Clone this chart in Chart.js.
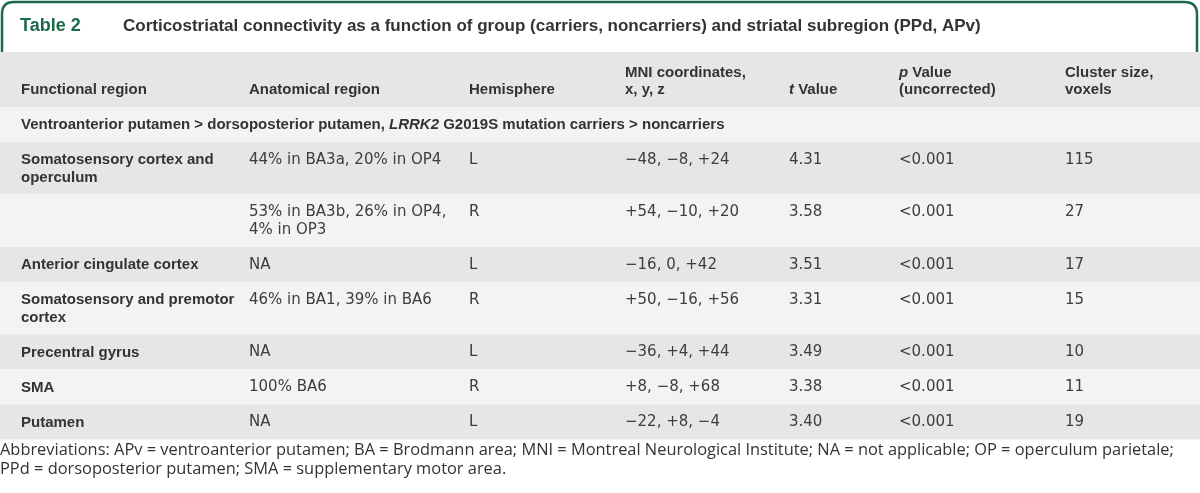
<!DOCTYPE html>
<html lang="en">
  <head>
    <meta charset="UTF-8" />
    <title>Table 2</title>
    <style>
      html, body { margin: 0; padding: 0; background: #fff; }
      #tableChart { display: block; }
    </style>
  </head>
  <body>
    <canvas id="tableChart" width="1200" height="493"></canvas>
    <script src="https://cdn.jsdelivr.net/npm/chart.js@4/dist/chart.umd.min.js"></script>
    <script>
        // table content
        var tableNumber = 'Table 2';
        var tableTitle = 'Corticostriatal connectivity as a function of group (carriers, noncarriers) and striatal subregion (PPd, APv)';
        var columnHeaders = [
            [['Functional region']],
            [['Anatomical region']],
            [['Hemisphere']],
            [['MNI coordinates,'], ['x, y, z']],
            [['t', 'Value']],
            [['p', 'Value'], ['(uncorrected)']],
            [['Cluster size,'], ['voxels']]
        ];
        var sectionLabel = ['Ventroanterior putamen > dorsoposterior putamen, ', 'LRRK2', ' G2019S mutation carriers > noncarriers'];

        var functionalRegion = [
            ['Somatosensory cortex and', 'operculum'],
            [],
            ['Anterior cingulate cortex'],
            ['Somatosensory and premotor', 'cortex'],
            ['Precentral gyrus'],
            ['SMA'],
            ['Putamen']
        ];
        var anatomicalRegion = [
            ['44% in BA3a, 20% in OP4'],
            ['53% in BA3b, 26% in OP4,', '4% in OP3'],
            ['NA'],
            ['46% in BA1, 39% in BA6'],
            ['NA'],
            ['100% BA6'],
            ['NA']
        ];
        var hemisphere = ['L', 'R', 'L', 'R', 'L', 'R', 'L'];
        var mniCoordinates = ['\u221248, \u22128, +24', '+54, \u221210, +20', '\u221216, 0, +42', '+50, \u221216, +56', '\u221236, +4, +44', '+8, \u22128, +68', '\u221222, +8, \u22124'];
        var tValues = ['4.31', '3.58', '3.51', '3.31', '3.49', '3.38', '3.40'];
        var pValues = ['<0.001', '<0.001', '<0.001', '<0.001', '<0.001', '<0.001', '<0.001'];
        var clusterSize = ['115', '27', '17', '15', '10', '11', '19'];

        var footnote = [
            'Abbreviations: APv = ventroanterior putamen; BA = Brodmann area; MNI = Montreal Neurological Institute; NA = not applicable; OP = operculum parietale;',
            'PPd = dorsoposterior putamen; SMA = supplementary motor area.'
        ];

        // layout
        var colStart = [21, 249, 469, 625, 789, 899, 1065];
        var titleH = 52, headerH = 55, sectionH = 35, lineH = 17.5, rowPad = 17.5;
        var teal = '#1b6b4b';
        var darkRow = '#e6e6e6', lightRow = '#f2f3f3';
        var boldFont = 'bold 15px "Liberation Sans", Arial, sans-serif';
        var boldItalicFont = 'italic bold 15px "Liberation Sans", Arial, sans-serif';
        var bodyFont = '15px "DejaVu Sans", sans-serif';
        var noteFont = '16.4px "Open Sans", sans-serif';

        function drawRich(ctx, parts, fonts, x, y) {
            parts.forEach(function (p, i) {
                ctx.font = fonts[i];
                ctx.fillText(p, x, y);
                x += ctx.measureText(p).width;
            });
        }

        var tablePlugin = {
            id: 'tablePlugin',
            beforeDraw: function (chart) {
                var ctx = chart.ctx;
                var sx = chart.scales.x, sy = chart.scales.y;
                var X = function (v) { return sx.getPixelForValue(v); };
                var Y = function (v) { return sy.getPixelForValue(v); };
                var W0 = X(0), W1 = X(1200);

                ctx.save();
                ctx.fillStyle = '#fff';
                ctx.fillRect(W0, Y(0), W1 - W0, Y(493) - Y(0));

                // title frame
                ctx.strokeStyle = teal;
                ctx.lineWidth = 2.5;
                ctx.beginPath();
                ctx.moveTo(X(2), Y(titleH));
                ctx.lineTo(X(2), Y(14));
                ctx.quadraticCurveTo(X(2), Y(2), X(14), Y(2));
                ctx.lineTo(X(1184), Y(2));
                ctx.quadraticCurveTo(X(1197), Y(2), X(1197), Y(14));
                ctx.lineTo(X(1197), Y(titleH));
                ctx.stroke();

                ctx.textBaseline = 'middle';
                ctx.fillStyle = teal;
                ctx.font = 'bold 18px "Liberation Sans", Arial, sans-serif';
                ctx.fillText(tableNumber, X(20), Y(26));
                ctx.fillStyle = '#333';
                ctx.font = 'bold 17px "Liberation Sans", Arial, sans-serif';
                ctx.fillText(tableTitle, X(123), Y(26));

                // header row
                var y = titleH;
                ctx.fillStyle = darkRow;
                ctx.fillRect(W0, Y(y), W1 - W0, Y(y + headerH) - Y(y));
                ctx.fillStyle = '#333';
                columnHeaders.forEach(function (lines, c) {
                    var bottom = y + headerH - 17;
                    lines.forEach(function (parts, li) {
                        var ly = bottom - (lines.length - 1 - li) * lineH;
                        var fonts = parts.length === 2 ? [boldItalicFont, boldFont] : [boldFont];
                        var segs = parts.length === 2 ? [parts[0] + ' ', parts[1]] : parts;
                        drawRich(ctx, segs, fonts, X(colStart[c]), Y(ly));
                    });
                });
                y += headerH;

                // section row
                ctx.fillStyle = lightRow;
                ctx.fillRect(W0, Y(y), W1 - W0, Y(y + sectionH) - Y(y));
                ctx.fillStyle = '#333';
                drawRich(ctx, sectionLabel, [boldFont, boldItalicFont, boldFont], X(colStart[0]), Y(y + 18));
                y += sectionH;

                // data rows
                functionalRegion.forEach(function (fr, r) {
                    var cells = [fr, anatomicalRegion[r], [hemisphere[r]], [mniCoordinates[r]], [tValues[r]], [pValues[r]], [clusterSize[r]]];
                    var nLines = Math.max.apply(null, cells.map(function (c) { return c.length; }));
                    var h = nLines * lineH + rowPad;
                    ctx.fillStyle = r % 2 === 0 ? darkRow : lightRow;
                    ctx.fillRect(W0, Y(y), W1 - W0, Y(y + h) - Y(y));
                    cells.forEach(function (lines, c) {
                        ctx.font = c === 0 ? boldFont : bodyFont;
                        ctx.fillStyle = c === 0 ? '#333' : '#3d3d3d';
                        lines.forEach(function (t, li) {
                            ctx.fillText(t, X(colStart[c]), Y(y + 18 + li * lineH));
                        });
                    });
                    y += h;
                });

                // footnote
                ctx.fillStyle = '#333';
                ctx.font = noteFont;
                footnote.forEach(function (t, i) {
                    ctx.fillText(t, X(0), Y(y + 11 + i * 19));
                });
                ctx.restore();
            }
        };

        var ctx = document.getElementById('tableChart').getContext('2d');
        var tableChart = new Chart(ctx, {
            type: 'scatter',
            data: { datasets: [] },
            options: {
                responsive: false,
                animation: false,
                layout: { padding: 0 },
                plugins: { legend: { display: false }, tooltip: { enabled: false } },
                scales: {
                    x: { type: 'linear', min: 0, max: 1200, display: false },
                    y: { type: 'linear', min: 0, max: 493, reverse: true, display: false }
                }
            },
            plugins: [tablePlugin]
        });
    </script>
  </body>
</html>
